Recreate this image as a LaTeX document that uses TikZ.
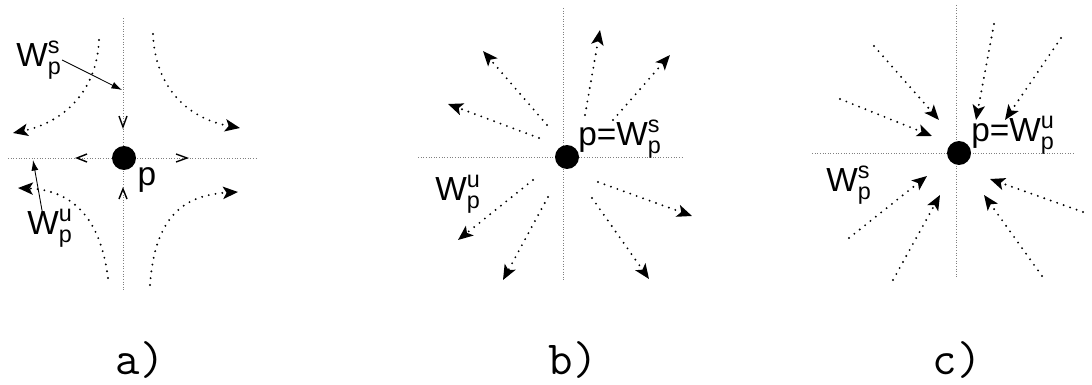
\documentclass[tikz,border=0pt]{standalone}
\usepackage{amsmath}
\usepackage{fontspec}
\setmainfont{Liberation Sans}
\usetikzlibrary{arrows.meta}

\begin{document}
\begin{tikzpicture}[x=0.02cm,y=-0.02cm,
  axis/.style={gray,densely dotted,line width=0.5pt},
  flow/.style={line width=1.2pt,line cap=round,dash pattern=on 0pt off 3.9pt,
    -{Stealth[length=8.5pt,width=7pt,inset=2pt]}},
  chevron/.style={line width=0.8pt},
  fixpt/.style={circle,fill=black,inner sep=0pt,minimum size=0.48cm},
  lab/.style={font=\fontsize{19}{19}\selectfont,inner sep=0pt},
  caption/.style={font=\ttfamily\fontsize{27}{27}\selectfont,inner sep=0pt},
  pin/.style={-{Latex[length=6pt,width=4pt]},line width=0.5pt}]
\useasboundingbox (0,0) rectangle (1092,385);

% a) saddle
\draw[axis] (123,18) -- (123,292);
\draw[axis] (8,158) -- (258,158);
\node[fixpt] (pa) at (124,158) {};
\draw[chevron] (119,116) -- (123,127) -- (127,116);
\draw[chevron] (119,199) -- (123,189) -- (127,199);
\draw[chevron] (87,154) -- (77,158) -- (87,162);
\draw[chevron] (176,154) -- (187,158) -- (176,162);
\draw[flow] (99,40) .. controls (97,90) and (65,122) .. (13,133);
\draw[flow] (153,34) .. controls (155,85) and (185,118) .. (240,128);
\draw[flow] (108,278) .. controls (100,215) and (70,190) .. (18,188);
\draw[flow] (150,285) .. controls (155,215) and (185,195) .. (238,192);
\node[lab] (wsa) at (39,60) {$\text{W}^{\text{s}}_{\text{p}}$};
\node[lab] (wua) at (50,228) {$\text{W}^{\text{u}}_{\text{p}}$};
\node[lab] (plaba) at (147,180) {p};
\coordinate (sa) at (122,90);
\coordinate (ua) at (33,160);
\draw[pin] (wsa.east) -- (sa);
\draw[pin] ([xshift=-4pt,yshift=-4pt]wua.north) -- (ua);
\node[caption] (capa) at (140,360) {a)};

% b) source
\draw[axis] (563,8) -- (563,282);
\draw[axis] (418,157) -- (682,157);
\node[fixpt] (pb) at (567,157) {};
\foreach \sx/\sy/\ex/\ey in {585/115/600/30, 613/120/670/55, 547/125/483/51,
    539/138/448/104, 533/180/458/240, 548/197/503/280, 598/182/692/216,
    592/198/649/279}
  \draw[flow] (\sx,\sy) -- (\ex,\ey);
\node[lab,anchor=west] (plabb) at (578,139) {p=$\text{W}^{\text{s}}_{\text{p}}$};
\node[lab] (wub) at (458,194) {$\text{W}^{\text{u}}_{\text{p}}$};
\node[caption] (capb) at (573,360) {b)};

% c) sink
\draw[axis] (956,5) -- (956,278);
\draw[axis] (812,153) -- (1073,153);
\node[fixpt] (pc) at (959,153) {};
\foreach \sx/\sy/\ex/\ey in {874/46/939/120, 840/99/932/136, 994/24/976/120,
    1061/38/1005/120, 849/238/927/176, 893/280/940/195, 1083/212/990/179,
    1042/276/984/195}
  \draw[flow] (\sx,\sy) -- (\ex,\ey);
\node[lab,anchor=west] (plabc) at (971,135) {p=$\text{W}^{\text{u}}_{\text{p}}$};
\node[lab] (wsc) at (849,185) {$\text{W}^{\text{s}}_{\text{p}}$};
\node[caption] (capc) at (957,360) {c)};
\end{tikzpicture}
\end{document}
